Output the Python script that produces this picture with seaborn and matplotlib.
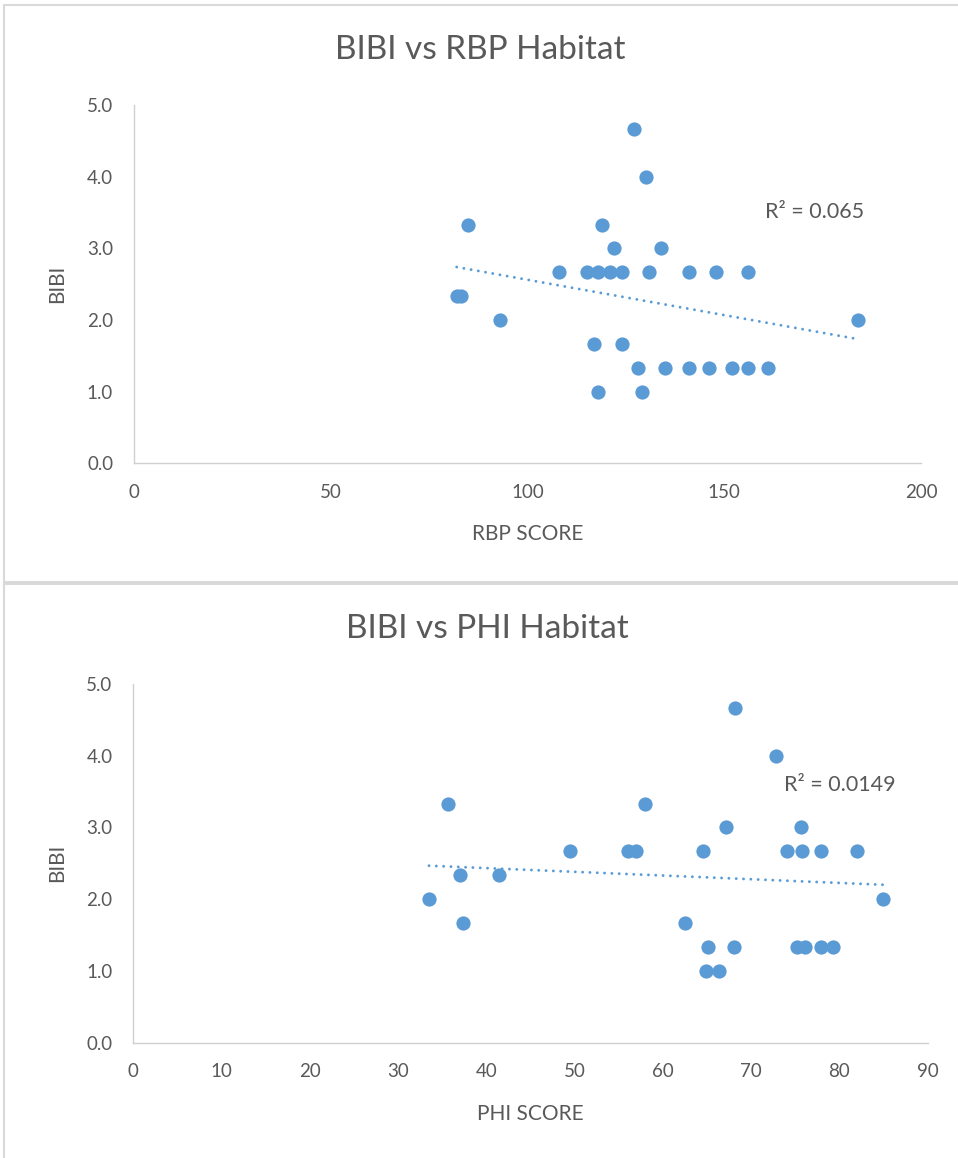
import matplotlib
matplotlib.use("Agg")
import matplotlib.pyplot as plt
import seaborn as sns
import pandas as pd
from matplotlib.lines import Line2D
from matplotlib.patches import Rectangle

# ---- data ----
rbp_score = [127, 130, 85, 119, 122, 134, 108, 115, 118, 121, 124, 131, 141, 148, 156,
             82, 83, 93, 184, 117, 124, 128, 135, 141, 146, 152, 156, 161, 118, 129]
rbp_bibi = [4.67, 4.0, 3.33, 3.33, 3.0, 3.0,
            2.67, 2.67, 2.67, 2.67, 2.67, 2.67, 2.67, 2.67, 2.67,
            2.33, 2.33, 2.0, 2.0, 1.67, 1.67,
            1.33, 1.33, 1.33, 1.33, 1.33, 1.33, 1.33, 1.0, 1.0]

phi_score = [68.2, 72.8, 35.6, 58.0, 67.2, 75.6,
             49.5, 56.1, 57.0, 64.5, 74.1, 75.8, 77.9, 82.0,
             37.0, 41.4, 33.5, 84.9, 37.4, 62.5,
             65.1, 68.1, 75.2, 76.1, 77.9, 79.3, 64.9, 66.4]
phi_bibi = [4.67, 4.0, 3.33, 3.33, 3.0, 3.0,
            2.67, 2.67, 2.67, 2.67, 2.67, 2.67, 2.67, 2.67,
            2.33, 2.33, 2.0, 2.0, 1.67, 1.67,
            1.33, 1.33, 1.33, 1.33, 1.33, 1.33, 1.0, 1.0]

titles = ["BIBI vs RBP Habitat", "BIBI vs PHI Habitat"]
xlabels = ["RBP SCORE", "PHI SCORE"]
ylabel = "BIBI"
r2_labels = ["R\u00b2 = 0.065", "R\u00b2 = 0.0149"]
rbp_ticks = [0, 50, 100, 150, 200]
phi_ticks = [0, 10, 20, 30, 40, 50, 60, 70, 80, 90]
bibi_ticks = [0, 1, 2, 3, 4, 5]

sns.set_theme(style="white")
plt.rcParams["font.family"] = ["Lato", "DejaVu Sans"]

W, H = 958, 1158
fig = plt.figure(figsize=(W / 100, H / 100), dpi=100)
fig.patch.set_facecolor("white")

BLUE = "#5b9bd5"
TXT = "#595959"
SPINE = "#d0d0d0"

def fx(px):
    return px / W

def fy(py):
    return 1 - py / H

# borders of the two chart frames
border = "#d9d9d9"
fig.add_artist(Line2D([fx(4), fx(958)], [fy(5), fy(5)], color=border, lw=1.5))
fig.add_artist(Line2D([fx(4), fx(4)], [fy(5), fy(1158)], color=border, lw=1.5))
fig.add_artist(Rectangle((fx(4), fy(585)), fx(958) - fx(4), fy(581) - fy(585),
                         color=border, lw=0))

panels = [
    dict(df=pd.DataFrame({"x": rbp_score, "y": rbp_bibi}), left=134, right=921,
         top=105, bottom=463.3, xticks=rbp_ticks, xlim=(0, 200),
         title_xy=(480, 50), r2_xy=(765, 212)),
    dict(df=pd.DataFrame({"x": phi_score, "y": phi_bibi}), left=133.3, right=927.7,
         top=684, bottom=1042.5, xticks=phi_ticks, xlim=(0, 90),
         title_xy=(487, 629), r2_xy=(784, 785)),
]

for i, p in enumerate(panels):
    ax = fig.add_axes([fx(p["left"]), fy(p["bottom"]),
                       fx(p["right"]) - fx(p["left"]), fy(p["top"]) - fy(p["bottom"])])
    sns.regplot(data=p["df"], x="x", y="y", ax=ax, ci=None, truncate=True,
                scatter_kws=dict(s=105, color=BLUE, alpha=1, linewidths=0, zorder=3),
                line_kws=dict(color=BLUE, lw=2.1, linestyle=(0, (0.01, 2.5)),
                              dash_capstyle="round", zorder=2))
    ax.set_xlim(*p["xlim"])
    ax.set_ylim(0, 5)
    ax.set_xticks(p["xticks"])
    ax.set_yticks(bibi_ticks)
    ax.set_yticklabels([f"{v:.1f}" for v in bibi_ticks])
    ax.tick_params(axis="both", length=0, labelsize=13.5, colors=TXT)
    ax.tick_params(axis="y", pad=15)
    ax.tick_params(axis="x", pad=15)
    for s in ["top", "right"]:
        ax.spines[s].set_visible(False)
    for s in ["left", "bottom"]:
        ax.spines[s].set_color(SPINE)
        ax.spines[s].set_linewidth(1.0)
    ax.grid(False)
    ax.set_facecolor("none")
    ax.set_xlabel(xlabels[i], fontsize=15, color=TXT)
    ax.set_ylabel(ylabel, fontsize=15, color=TXT)
    aw = p["right"] - p["left"]
    ah = p["bottom"] - p["top"]
    ax.yaxis.set_label_coords((67 - p["left"]) / aw, 0.5)
    ax.xaxis.set_label_coords(0.5, -61 / ah)
    fig.text(fx(p["title_xy"][0]), fy(p["title_xy"][1]), titles[i], ha="center",
             va="center", fontsize=24, color=TXT)
    fig.text(fx(p["r2_xy"][0]), fy(p["r2_xy"][1]), r2_labels[i], ha="left",
             va="center", fontsize=15.5, color=TXT)

fig.savefig("out.png", dpi=100, facecolor="white")
